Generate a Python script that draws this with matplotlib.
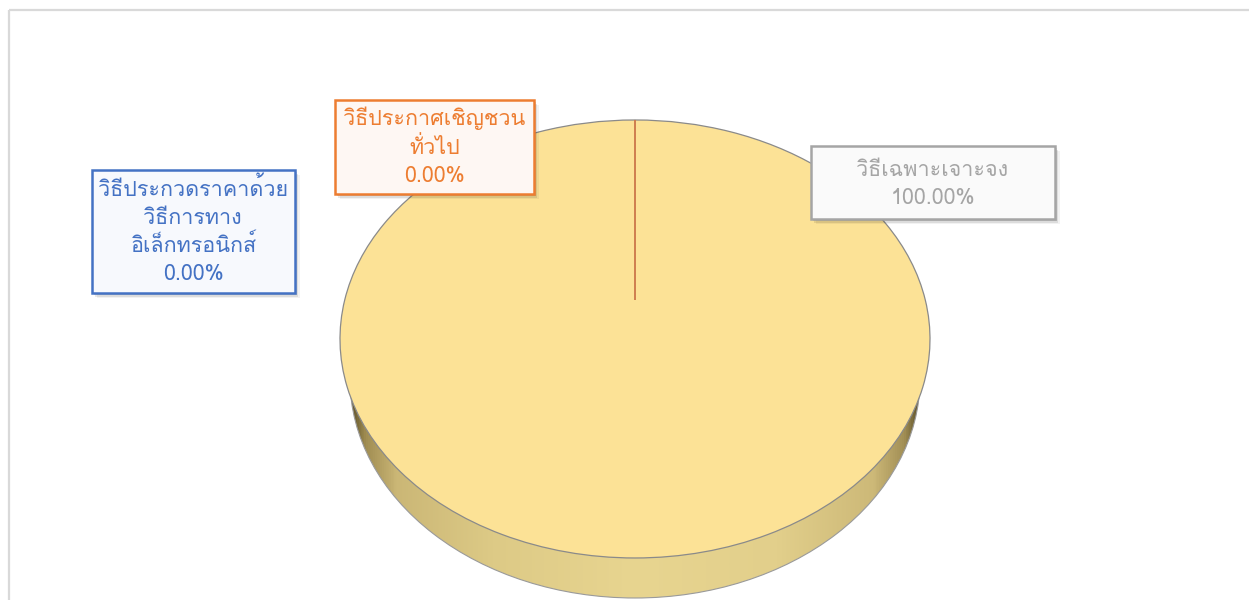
import matplotlib
matplotlib.use("Agg")
import numpy as np
import matplotlib.pyplot as plt
import matplotlib.transforms as mtransforms
from matplotlib import font_manager
from matplotlib.ft2font import FT2Font
from matplotlib.patches import Rectangle, Ellipse
from matplotlib.colors import LinearSegmentedColormap

# data
labels = ["วิธีประกวดราคาด้วย\nวิธีการทาง\nอิเล็กทรอนิกส์", "วิธีประกาศเชิญชวน\nทั่วไป", "วิธีเฉพาะเจาะจง"]
values = [0.0, 0.0, 100.0]
label_colors = ["#4472C4", "#ED7D31", "#A5A5A5"]

# find a font that has thai glyphs
thai_font = None
for fe in font_manager.fontManager.ttflist:
    try:
        cm = FT2Font(fe.fname).get_charmap()
    except Exception:
        continue
    if 0x0E27 in cm and 0x0E18 in cm and 0x0E0D in cm:
        thai_font = fe.name
        break
plt.rcParams["font.family"] = ([thai_font] if thai_font else []) + ["DejaVu Sans"]

W, H = 1249, 600
cx, cy = 635, 339          # centre of the top ellipse (px)
RX, RY = 295, 219          # top ellipse radii (px)
DEPTH = 40                 # thickness of the disk (px)

# perspective: unit circle -> tilted disk, circle centre lands 39 px above ellipse centre
K = 0.178
E = 39.0
B = 219.0
A = RX * np.sqrt(1 - K ** 2)


class Persp(mtransforms.Transform):
    input_dims = 2
    output_dims = 2
    is_separable = False

    def transform_non_affine(self, values):
        p = np.asarray(values, dtype=float)
        u, v = p[:, 0], p[:, 1]
        w = 1 + K * v
        return np.column_stack([A * u / w, (B * v + E) / w])


fig = plt.figure(figsize=(W / 100, H / 100), dpi=100)
fig.patch.set_facecolor("white")

ax = fig.add_axes([0, 0, 1, 1])
ax.set_xlim(-cx, W - cx)
ax.set_ylim(cy - H, cy)
ax.set_autoscale_on(False)

# side of the disk: lower (further) ellipse, shaded left-right
bottom = Ellipse((0, -DEPTH), 2 * (RX - 10), 2 * RY, facecolor="none",
                 edgecolor="#9a9a9a", linewidth=0.8, zorder=2)
ax.add_patch(bottom)
side_cmap = LinearSegmentedColormap.from_list("side", [
    (0.0, "#5e5128"), (0.025, "#a08d52"), (0.08, "#cbb776"), (0.25, "#ddca86"),
    (0.5, "#e8d590"), (0.75, "#e2cf8b"), (0.92, "#cdb978"), (0.975, "#a28f55"),
    (1.0, "#5e5128")])
grad = np.linspace(0, 1, 500).reshape(1, -1)
im = ax.imshow(grad, cmap=side_cmap, extent=[-(RX - 10), RX - 10, -DEPTH - RY, RY - DEPTH],
               aspect="auto", zorder=1, interpolation="bilinear")
im.set_clip_path(bottom)

# top face
wedges, _ = ax.pie(values, startangle=90, counterclock=False, radius=1,
                   colors=["#FCE296"] * len(values),
                   wedgeprops=dict(linewidth=0.9, edgecolor="#8a8a8a"))
persp = Persp() + ax.transData
for w in wedges:
    w.set_transform(persp)
    w.set_zorder(3)
wedges[2].set_zorder(2.5)
for i in range(2):
    wedges[i].set_edgecolor(label_colors[i])
    wedges[i].set_linewidth(1.1)
    wedges[i].set_facecolor("none")

ax.set_aspect("auto")
ax.set_xlim(-cx, W - cx)
ax.set_ylim(cy - H, cy)
ax.axis("off")

# overlay in pixel coords for frame and data labels
ov = fig.add_axes([0, 0, 1, 1], facecolor="none")
ov.set_xlim(0, W)
ov.set_ylim(H, 0)
ov.axis("off")
ov.add_patch(Rectangle((9.5, 9.5), W, H, facecolor="none", edgecolor="#d9d9d9", linewidth=1.6))

boxes = [(92, 170, 203, 123), (335, 100, 199, 94), (811, 146, 244, 73)]
fills = ["#f7f9fd", "#fef7f3", "#fafafa"]
line_y = [[189, 218, 246], [118, 148], [171]]
pct_y = [275, 177, 199]
total = sum(values)
for i, lab in enumerate(labels):
    x0, y0, bw, bh = boxes[i]
    for k, a in [(5, 0.05), (3.5, 0.09), (2, 0.13)]:
        ov.add_patch(Rectangle((x0 + k, y0 + k), bw, bh, facecolor="#000000",
                               alpha=a, edgecolor="none", zorder=4))
    ov.add_patch(Rectangle((x0, y0), bw, bh, facecolor=fills[i],
                           edgecolor=label_colors[i], linewidth=1.8, zorder=5))
    xc = x0 + bw / 2
    for ln, yy in zip(lab.split("\n"), line_y[i]):
        ov.text(xc, yy, ln, ha="center", va="center", fontsize=15.5,
                color=label_colors[i], zorder=6)
    ov.text(xc, pct_y[i], f"{values[i] / total * 100:.2f}%", ha="center",
            va="center", fontsize=15.5, color=label_colors[i], zorder=6)

fig.savefig("out.png", dpi=100)
